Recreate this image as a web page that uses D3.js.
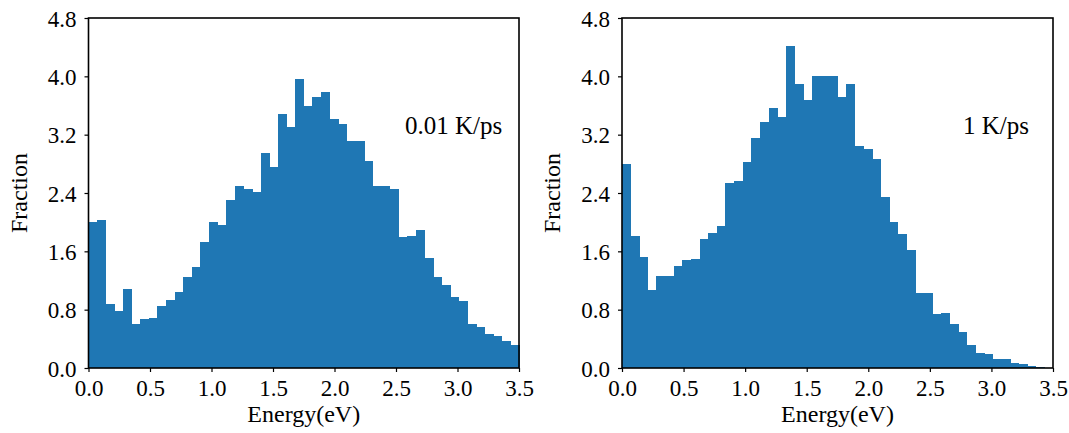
<!DOCTYPE html>
<html>
<head>
<meta charset="utf-8">
<script src="https://cdn.jsdelivr.net/npm/d3@7"></script>
<style>
  html, body { margin: 0; padding: 0; background: #fff; }
  svg { display: block; }
  text { font-family: "Liberation Serif", "Times New Roman", serif; fill: #000; }
</style>
</head>
<body>
<svg id="chart" width="1069" height="433"></svg>
<script>
// Histogram bins: 50 equal bins spanning 0–3.5 eV
const binCount = 50;
const energyMin = 0.0;
const energyMax = 3.5;

// Fraction per bin, slow cooling (0.01 K/ps)
const fractionSlow = [
  2.00, 2.03, 0.88, 0.78, 1.08, 0.60, 0.67, 0.68, 0.85, 0.93,
  1.04, 1.25, 1.39, 1.73, 2.00, 1.96, 2.31, 2.49, 2.46, 2.42,
  2.95, 2.75, 3.49, 3.31, 3.96, 3.59, 3.72, 3.78, 3.42, 3.35,
  3.11, 3.11, 2.84, 2.49, 2.49, 2.46, 1.80, 1.81, 1.89, 1.51,
  1.25, 1.14, 0.97, 0.92, 0.60, 0.56, 0.46, 0.44, 0.37, 0.31
];

// Fraction per bin, fast cooling (1 K/ps)
const fractionFast = [
  2.80, 1.81, 1.52, 1.07, 1.26, 1.26, 1.40, 1.48, 1.50, 1.77,
  1.85, 1.95, 2.54, 2.56, 2.83, 3.16, 3.38, 3.57, 3.44, 4.41,
  3.90, 3.68, 4.01, 4.00, 4.00, 3.71, 3.89, 3.05, 3.01, 2.86,
  2.35, 2.00, 1.84, 1.62, 1.03, 1.03, 0.74, 0.75, 0.60, 0.50,
  0.31, 0.20, 0.19, 0.12, 0.12, 0.064, 0.05, 0.023, 0.01, 0.003
];

const xTicks = [0.0, 0.5, 1.0, 1.5, 2.0, 2.5, 3.0, 3.5];
const yTicks = [0.0, 0.8, 1.6, 2.4, 3.2, 4.0, 4.8];
const panelLabels = ["0.01 K/ps", "1 K/ps"];
const xTitle = "Energy(eV)";
const yTitle = "Fraction";

const barColor = "#1f77b4";
const svg = d3.select("#chart");

const panels = [
  { data: fractionSlow, label: panelLabels[0], left: 88.5, right: 519, labelX: 405, labelY: 134 },
  { data: fractionFast, label: panelLabels[1], left: 622, right: 1053, labelX: 963, labelY: 134 }
];
const plotTop = 18, plotBottom = 368;
const binWidth = (energyMax - energyMin) / binCount;

panels.forEach(p => {
  const x = d3.scaleLinear().domain([energyMin, energyMax]).range([p.left, p.right]);
  const y = d3.scaleLinear().domain([0, 4.8]).range([plotBottom, plotTop]);
  const g = svg.append("g");

  // bars (drawn edge to edge, no gaps)
  g.selectAll("rect.bar")
    .data(p.data)
    .join("rect")
    .attr("class", "bar")
    .attr("x", (d, i) => x(energyMin + i * binWidth))
    .attr("width", (d, i) => x(energyMin + (i + 1) * binWidth) - x(energyMin + i * binWidth) + 0.6)
    .attr("y", d => y(d))
    .attr("height", d => y(0) - y(d))
    .attr("fill", barColor)
    .attr("shape-rendering", "crispEdges");

  // axes
  const xAxis = d3.axisBottom(x).tickValues(xTicks).tickFormat(d3.format(".1f")).tickSizeInner(4).tickSizeOuter(0).tickPadding(3);
  const yAxis = d3.axisLeft(y).tickValues(yTicks).tickFormat(d3.format(".1f")).tickSizeInner(4).tickSizeOuter(0).tickPadding(8);

  const gx = g.append("g").attr("transform", `translate(0,${plotBottom})`).call(xAxis);
  const gy = g.append("g").attr("transform", `translate(${p.left},0)`).call(yAxis);
  [gx, gy].forEach(a => {
    a.select(".domain").remove();
    a.selectAll(".tick line").attr("stroke", "#000").attr("stroke-width", 1.2);
    a.selectAll(".tick text").style("font-size", "23px").attr("fill", "#000");
  });
  gx.selectAll(".tick text").attr("dy", "0.92em");
  gy.selectAll(".tick text").attr("dy", "0.35em");

  // frame
  g.append("rect")
    .attr("x", p.left).attr("y", plotTop)
    .attr("width", p.right - p.left).attr("height", plotBottom - plotTop)
    .attr("fill", "none").attr("stroke", "#000").attr("stroke-width", 1.6);

  // titles
  g.append("text")
    .attr("x", (p.left + p.right) / 2).attr("y", 422)
    .attr("text-anchor", "middle").style("font-size", "24px")
    .text(xTitle);
  g.append("text")
    .attr("transform", `translate(${p.left - 62},${(plotTop + plotBottom) / 2}) rotate(-90)`)
    .attr("text-anchor", "middle").style("font-size", "24px")
    .text(yTitle);

  // rate annotation
  g.append("text")
    .attr("x", p.labelX).attr("y", p.labelY)
    .style("font-size", "25px")
    .text(p.label);
});
</script>
</body>
</html>
